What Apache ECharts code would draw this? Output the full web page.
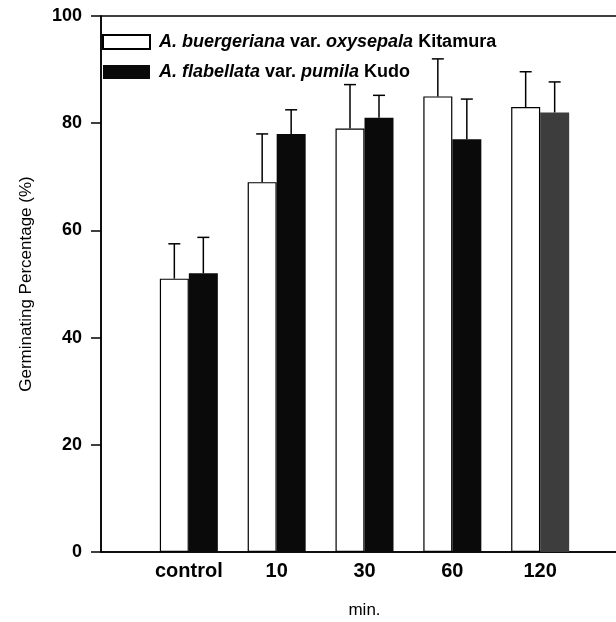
<!DOCTYPE html>
<html>
<head>
<meta charset="utf-8">
<script src="https://cdn.jsdelivr.net/npm/echarts@6/dist/echarts.min.js"></script>
<style>
  html, body { margin: 0; padding: 0; background: #fff; }
  #main { width: 616px; height: 622px; }
</style>
</head>
<body>
<div id="main"></div>
<script>
// soaking time groups (x positions 1..5 on a 0..6 value axis)
var categories = ['control', '10', '30', '60', '120'];

var seriesNames = [
  'A. buergeriana var. oxysepala Kitamura',
  'A. flabellata var. pumila Kudo'
];
// legend text with the italic parts marked
var legendRich = [
  '{i|A. buergeriana} var. {i|oxysepala} Kitamura',
  '{i|A. flabellata} var. {i|pumila} Kudo'
];

var buergeriana = [51, 69, 79, 85, 83];
var buergerianaErr = [6.5, 9, 8.2, 7, 6.6];
var flabellata = [52, 78, 81, 77, 82];
var flabellataErr = [6.7, 4.5, 4.2, 7.5, 5.7];

var yTicks = { min: 0, max: 100, interval: 20 };

var FONT = '"Liberation Sans", Arial, sans-serif';
var BAR_W = 29;

function pairs(vals, errs) {
  var out = [];
  for (var i = 0; i < vals.length; i++) {
    out.push([i + 1, vals[i], errs ? errs[i] : 0]);
  }
  return out;
}

// upper error bar drawn from bar top, shifted to the bar centre
function errorRenderer(offset) {
  return function (params, api) {
    var x = api.value(0);
    var v = api.value(1);
    var e = api.value(2);
    var p0 = api.coord([x, v]);
    var p1 = api.coord([x, v + e]);
    var cx = p0[0] + offset;
    var style = { stroke: '#000', lineWidth: 1.5 };
    return {
      type: 'group',
      children: [
        { type: 'line', shape: { x1: cx, y1: p0[1], x2: cx, y2: p1[1] }, style: style },
        { type: 'line', shape: { x1: cx - 6, y1: p1[1], x2: cx + 6, y2: p1[1] }, style: style }
      ]
    };
  };
}

var blackData = pairs(flabellata).map(function (d, i) {
  // last group is printed as a dark halftone
  if (i === 4) return { value: d, itemStyle: { color: '#3d3d3d' } };
  return d;
});

var myChart = echarts.init(document.getElementById('main'));
myChart.setOption({
  animation: false,
  backgroundColor: '#fff',
  textStyle: { fontFamily: FONT },
  grid: {
    left: 101,
    right: -12,
    top: 16,
    bottom: 70,
    outerBoundsMode: 'none',
    containLabel: false,
    show: true,
    borderColor: '#000',
    borderWidth: 1.5
  },
  legend: {
    orient: 'vertical',
    left: 102,
    top: 33,
    padding: 0,
    itemWidth: 47,
    itemHeight: 14,
    itemGap: 12,
    icon: 'rect',
    data: seriesNames,
    formatter: function (name) {
      return legendRich[seriesNames.indexOf(name)];
    },
    textStyle: {
      fontFamily: FONT,
      fontSize: 18,
      fontWeight: 'bold',
      color: '#000',
      padding: [0, 0, 0, 4],
      rich: {
        i: { fontFamily: FONT, fontSize: 18, fontWeight: 'bold', fontStyle: 'italic', color: '#000' }
      }
    }
  },
  xAxis: {
    type: 'value',
    min: 0,
    max: 6,
    interval: 1,
    name: 'min.',
    nameLocation: 'middle',
    nameGap: 50,
    nameTextStyle: { fontSize: 17, color: '#000', fontFamily: FONT },
    axisLine: { lineStyle: { color: '#000', width: 1.5 } },
    axisTick: { show: false },
    splitLine: { show: false },
    axisLabel: {
      margin: 9,
      fontSize: 20,
      fontWeight: 'bold',
      color: '#000',
      fontFamily: FONT,
      formatter: function (v) {
        return categories[v - 1] || '';
      }
    }
  },
  yAxis: {
    type: 'value',
    min: yTicks.min,
    max: yTicks.max,
    interval: yTicks.interval,
    name: 'Germinating Percentage (%)',
    nameLocation: 'middle',
    nameGap: 66,
    nameTextStyle: { fontSize: 17, color: '#000', fontFamily: FONT },
    axisLine: { show: true, lineStyle: { color: '#000', width: 1.5 } },
    axisTick: { show: true, length: 10, lineStyle: { color: '#000', width: 1.5 } },
    splitLine: { show: false },
    axisLabel: {
      margin: 19,
      fontSize: 18,
      fontWeight: 'bold',
      color: '#000',
      fontFamily: FONT
    }
  },
  series: [
    {
      name: seriesNames[0],
      type: 'bar',
      barWidth: BAR_W,
      barGap: '0%',
      itemStyle: { color: '#fff', borderColor: '#000', borderWidth: 1.2 },
      data: pairs(buergeriana)
    },
    {
      name: seriesNames[1],
      type: 'bar',
      barWidth: BAR_W,
      barGap: '0%',
      itemStyle: { color: '#0a0a0a', borderColor: '#000', borderWidth: 0 },
      data: blackData
    },
    {
      type: 'custom',
      z: 5,
      renderItem: errorRenderer(-BAR_W / 2),
      encode: { x: 0, y: 1 },
      data: pairs(buergeriana, buergerianaErr)
    },
    {
      type: 'custom',
      z: 5,
      renderItem: errorRenderer(BAR_W / 2),
      encode: { x: 0, y: 1 },
      data: pairs(flabellata, flabellataErr)
    }
  ]
});
</script>
</body>
</html>
